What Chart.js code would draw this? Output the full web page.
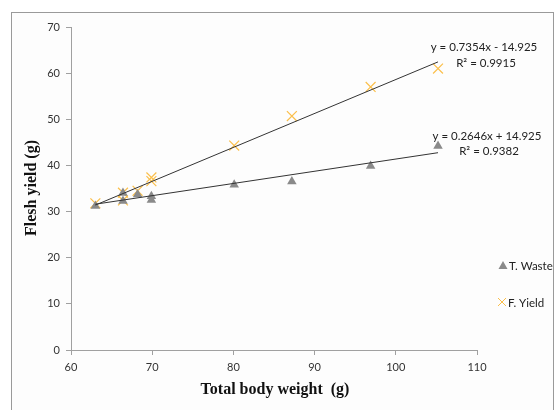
<!DOCTYPE html>
<html>
<head>
<meta charset="utf-8">
<script src="https://cdn.jsdelivr.net/npm/chart.js@4.4.1/dist/chart.umd.min.js"></script>
<style>
  html, body { margin: 0; padding: 0; background: #ffffff; }
  #wrap { position: relative; width: 559px; height: 410px; overflow: hidden; }
  #frame { position: absolute; left: 11px; top: 12px; width: 543px; height: 420px;
           border: 1px solid #9a9a9a; background: #fdfdfd; box-sizing: border-box; }
  canvas { position: absolute; left: 0; top: 0; }
</style>
</head>
<body>
<div id="wrap">
  <div id="frame"></div>
  <canvas id="chart" width="559" height="410"></canvas>
</div>
<script>
// 総体重 (g) と各成分 (g)
const bodyWeight = [63, 66.4, 66.4, 68.2, 69.9, 69.9, 80.1, 87.2, 96.9, 105.2];
const tWaste     = [31.2, 34.0, 32.3, 33.7, 33.3, 32.5, 35.8, 36.5, 39.9, 44.2];
const fYield     = [31.8, 32.4, 34.1, 34.5, 36.6, 37.4, 44.3, 50.7, 57.0, 61.0];

// 近似直線の係数 [傾き, 切片]
const trendWaste = [0.2646, 14.925];
const trendYield = [0.7354, -14.925];

const xTicks = [60, 70, 80, 90, 100, 110];
const yTicks = [0, 10, 20, 30, 40, 50, 60, 70];

const seriesNames = ['T. Waste', 'F. Yield'];
const eqWaste = ['y = 0.2646x + 14.925', 'R² = 0.9382'];
const eqYield = ['y = 0.7354x - 14.925', 'R² = 0.9915'];

const WASTE_COLOR = '#8a8a8a';
const YIELD_COLOR = '#fbbf4a';

function points(xs, ys) {
  return xs.map(function(x, i) { return { x: x, y: ys[i] }; });
}

function trend(coef) {
  const lo = Math.min.apply(null, bodyWeight);
  const hi = Math.max.apply(null, bodyWeight);
  return [lo, hi].map(function(x) { return { x: x, y: coef[0] * x + coef[1] }; });
}

// 軸タイトル・式・凡例を描く
const extras = {
  id: 'extras',
  afterDraw(chart) {
    const ctx = chart.ctx;
    ctx.save();
    ctx.fillStyle = '#111';
    ctx.textAlign = 'center';
    ctx.textBaseline = 'middle';

    ctx.font = 'bold 16px "Liberation Serif"';
    ctx.fillText('Total body weight  (g)', 275, 390);

    ctx.save();
    ctx.translate(32, 188);
    ctx.rotate(-Math.PI / 2);
    ctx.font = 'bold 16px "Liberation Serif"';
    ctx.fillText('Flesh yield (g)', 0, 0);
    ctx.restore();

    ctx.font = '11.5px Lato';
    ctx.fillStyle = '#222';
    ctx.fillText(eqYield[0], 484, 47);
    ctx.fillText(eqYield[1], 486, 63);
    ctx.fillText(eqWaste[0], 487, 136);
    ctx.fillText(eqWaste[1], 489, 151);

    // 凡例
    ctx.fillStyle = WASTE_COLOR;
    ctx.beginPath();
    ctx.moveTo(503, 261);
    ctx.lineTo(507.5, 269);
    ctx.lineTo(498.5, 269);
    ctx.closePath();
    ctx.fill();

    ctx.strokeStyle = YIELD_COLOR;
    ctx.lineWidth = 1;
    ctx.beginPath();
    ctx.moveTo(498, 298); ctx.lineTo(506, 306);
    ctx.moveTo(506, 298); ctx.lineTo(498, 306);
    ctx.stroke();

    ctx.font = '11.5px Lato';
    ctx.fillStyle = '#222';
    ctx.textAlign = 'left';
    ctx.fillText(seriesNames[0], 509, 266);
    ctx.fillText(seriesNames[1], 508, 303);
    ctx.restore();
  }
};

const axisStyle = {
  border: { color: '#a0a0a0', width: 1 },
  grid: { display: true, drawOnChartArea: false, drawTicks: true, tickLength: 5, color: '#a0a0a0' },
};

new Chart(document.getElementById('chart'), {
  type: 'scatter',
  data: {
    datasets: [
      {
        label: seriesNames[0],
        data: points(bodyWeight, tWaste),
        pointStyle: 'triangle',
        pointRadius: 5.5,
        backgroundColor: WASTE_COLOR,
        borderColor: WASTE_COLOR,
        borderWidth: 0,
        order: 2,
      },
      {
        label: seriesNames[1],
        data: points(bodyWeight, fYield),
        pointStyle: 'crossRot',
        pointRadius: 7,
        borderColor: YIELD_COLOR,
        borderWidth: 1.2,
        order: 2,
      },
      {
        label: 'trend-waste',
        data: trend(trendWaste),
        showLine: true,
        pointRadius: 0,
        borderColor: '#333',
        borderWidth: 1,
        order: 1,
      },
      {
        label: 'trend-yield',
        data: trend(trendYield),
        showLine: true,
        pointRadius: 0,
        borderColor: '#333',
        borderWidth: 1,
        order: 1,
      },
    ]
  },
  options: {
    responsive: false,
    animation: false,
    events: [],
    layout: { padding: { left: 0, top: 27, right: 82, bottom: 0 } },
    plugins: {
      legend: { display: false },
      tooltip: { enabled: false },
    },
    scales: {
      x: Object.assign({
        type: 'linear',
        min: xTicks[0],
        max: xTicks[xTicks.length - 1],
        afterFit: function(scale) { scale.height = 60; },
        afterBuildTicks: function(scale) { scale.ticks = xTicks.map(function(v) { return { value: v }; }); },
        ticks: { color: '#333', font: { family: 'Lato', size: 11 }, padding: 6, maxRotation: 0 },
      }, axisStyle),
      y: Object.assign({
        type: 'linear',
        min: yTicks[0],
        max: yTicks[yTicks.length - 1],
        afterFit: function(scale) { scale.width = 71; },
        afterBuildTicks: function(scale) { scale.ticks = yTicks.map(function(v) { return { value: v }; }); },
        ticks: { color: '#333', font: { family: 'Lato', size: 11 }, padding: 6 },
      }, axisStyle),
    }
  },
  plugins: [extras]
});
</script>
</body>
</html>
